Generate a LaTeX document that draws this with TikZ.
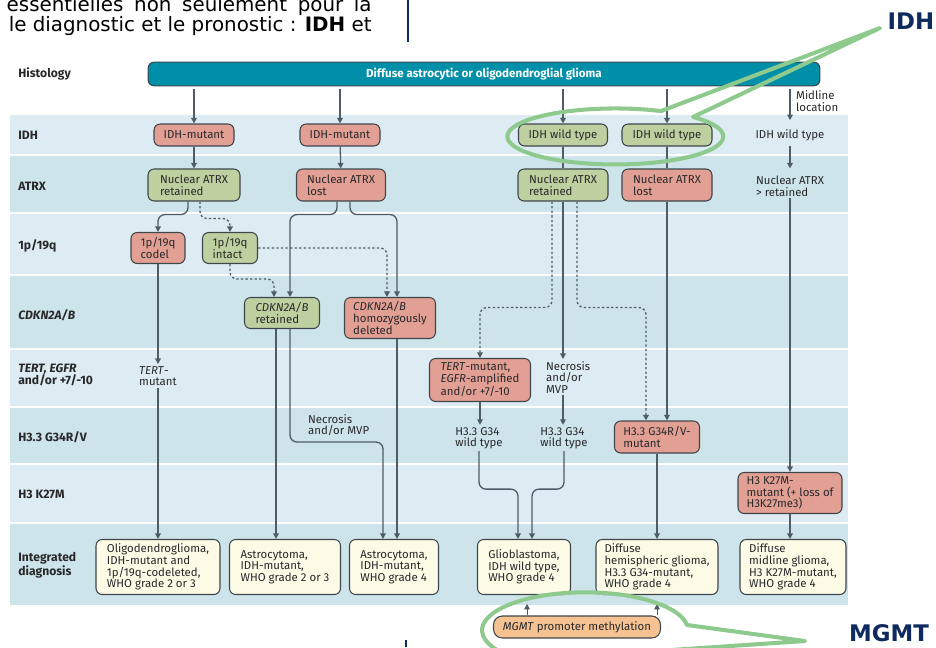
\documentclass[tikz,border=0pt]{standalone}
\usepackage{fontspec}
\setmainfont{Fira Sans}
\newfontfamily\notefont{DejaVu Sans}
\usetikzlibrary{arrows.meta, positioning, calc}

\definecolor{bandA}{RGB}{221,236,242}
\definecolor{bandB}{RGB}{206,228,235}
\definecolor{barteal}{RGB}{0,143,168}
\definecolor{redfill}{RGB}{226,160,148}
\definecolor{greenfill}{RGB}{190,208,160}
\definecolor{dxfill}{RGB}{253,250,230}
\definecolor{mgmtfill}{RGB}{246,194,146}
\definecolor{boxline}{RGB}{62,70,76}
\definecolor{arrline}{RGB}{78,92,102}
\definecolor{ink}{RGB}{40,40,42}
\definecolor{navy}{RGB}{14,42,94}
\definecolor{hlgreen}{RGB}{142,202,142}

\begin{document}
\begin{tikzpicture}[
  x=0.02cm, y=-0.02cm,
  font=\fontsize{6.5}{6.6}\selectfont,
  every node/.style={text=ink},
  box/.style={draw=boxline, line width=0.6pt, rounded corners=3.5pt, align=left, inner sep=2pt, minimum height=0.44cm},
  redbox/.style={box, fill=redfill},
  greenbox/.style={box, fill=greenfill},
  dxbox/.style={box, fill=dxfill, minimum height=1.1cm},
  plaintext/.style={align=left, inner sep=1pt},
  rowlab/.style={anchor=west, align=left, inner sep=0pt, font=\fontsize{6.9}{7}\selectfont\bfseries},
  arr/.style={-{Triangle[length=3.2pt, width=3.2pt]}, draw=arrline, line width=0.75pt},
  link/.style={draw=arrline, line width=0.75pt},
  dotarr/.style={arr, dash pattern=on 1.3pt off 1.3pt},
  hl/.style={draw=hlgreen, line width=2.3pt, line join=round}
]
\useasboundingbox (0,0) rectangle (936,647);

% rows of the table
\foreach \top/\bot/\col in {115/154/bandA, 156/212/bandB, 214/274/bandA, 276/348/bandB,
    350/406/bandA, 408/463/bandB, 465/522/bandA, 524/605/bandB}
  \fill[\col] (10,\top) rectangle (848,\bot);

% text above the figure
\node[anchor=east, inner sep=0pt, font=\notefont\fontsize{11.3}{12}\selectfont, text=black] (txtA) at (372,6)
  {\makebox[7.3cm][s]{essentielles non seulement pour la}};
\node[anchor=east, inner sep=0pt, font=\notefont\fontsize{11.3}{12}\selectfont, text=black] (txtB) at (372,26)
  {le diagnostic et le pronostic : \textbf{IDH} et};
\draw[navy, line width=1pt] (408,0) -- (408,42);
\draw[navy, line width=1pt] (406,640) -- (406,647);

% row labels
\node[rowlab] (labHist) at (18,74) {Histology};
\node[rowlab] (labIDH) at (18,135) {IDH};
\node[rowlab] (labATRX) at (18,186) {ATRX};
\node[rowlab] (labCodel) at (18,246) {1p/19q};
\node[rowlab] (labCDKN) at (18,315) {\itshape CDKN2A/B};
\node[rowlab] (labTERT) at (18,375) {{\itshape TERT, EGFR}\\and/or +7/-10};
\node[rowlab] (labG34) at (18,437) {H3.3 G34R/V};
\node[rowlab] (labK27) at (18,494) {H3 K27M};
\node[rowlab] (labDx) at (18,565) {Integrated\\diagnosis};

% histology
\node[draw=boxline, fill=barteal, line width=0.6pt, rounded corners=3.5pt, minimum width=13.44cm, minimum height=0.44cm,
  text=white, font=\fontsize{6.6}{6.6}\selectfont\bfseries] (hist) at (484,74) {Diffuse astrocytic or oligodendroglial glioma};

% IDH
\node[redbox, minimum width=1.6cm] (idhA) at (194,135) {IDH-mutant};
\node[redbox, minimum width=1.6cm] (idhB) at (340,135) {IDH-mutant};
\node[greenbox, minimum width=1.78cm] (idhC) at (563,135) {IDH wild type};
\node[greenbox, minimum width=1.8cm] (idhD) at (667,135) {IDH wild type};
\node[plaintext] (idhE) at (790,135) {IDH wild type};
\node[plaintext, anchor=west] (midline) at (794,101) {Midline\\location};

% ATRX
\node[greenbox, minimum width=1.84cm, minimum height=0.64cm] (atrxA) at (194,185) {Nuclear ATRX\\retained};
\node[redbox, minimum width=1.78cm, minimum height=0.64cm] (atrxB) at (341,185) {Nuclear ATRX\\lost};
\node[greenbox, minimum width=1.8cm, minimum height=0.64cm] (atrxC) at (563,185) {Nuclear ATRX\\retained};
\node[redbox, minimum width=1.8cm, minimum height=0.64cm] (atrxD) at (667,185) {Nuclear ATRX\\lost};
\node[plaintext] (atrxE) at (790,186) {Nuclear ATRX\\> retained};

% 1p/19q
\node[redbox, minimum width=1.08cm, minimum height=0.62cm] (codel) at (158,248) {1p/19q\\codel};
\node[greenbox, minimum width=1.1cm, minimum height=0.62cm] (intact) at (230,248) {1p/19q\\intact};

% CDKN2A/B
\node[greenbox, minimum width=1.5cm, minimum height=0.62cm] (cdknA) at (282,313) {\textit{CDKN2A/B}\\retained};
\node[redbox, minimum width=1.82cm, minimum height=0.82cm] (cdknB) at (390,318) {\textit{CDKN2A/B}\\homozygously\\deleted};

% TERT, EGFR
\node[plaintext] (tertT) at (158,376) {\textit{TERT}-\\mutant};
\node[redbox, minimum width=2.02cm, minimum height=0.86cm] (tertB) at (480,380) {\textit{TERT}-mutant,\\\textit{EGFR}-amplified\\and/or +7/-10};
\node[plaintext, anchor=north west] (necT) at (544,359) {Necrosis\\and/or\\MVP};

% H3.3 G34R/V
\node[plaintext, anchor=south west] (necB) at (306,438) {Necrosis\\and/or MVP};
\node[plaintext] (h3wtA) at (479,438) {H3.3 G34\\wild type};
\node[plaintext] (h3wtB) at (564,438) {H3.3 G34\\wild type};
\node[redbox, minimum width=1.7cm, minimum height=0.64cm] (g34) at (657,437) {H3.3 G34R/V-\\mutant};

% H3 K27M
\node[redbox, minimum width=2.08cm, minimum height=0.82cm] (k27m) at (790,493) {H3 K27M-\\mutant (+ loss of\\H3K27me3)};

% integrated diagnosis
\node[dxbox, minimum width=2.48cm] (dxA) at (158,567) {Oligodendroglioma,\\IDH-mutant and\\1p/19q-codeleted,\\WHO grade 2 or 3};
\node[dxbox, minimum width=2.22cm] (dxB) at (285,567) {Astrocytoma,\\IDH-mutant,\\WHO grade 2 or 3};
\node[dxbox, minimum width=1.78cm] (dxC) at (394,567) {Astrocytoma,\\IDH-mutant,\\WHO grade 4};
\node[dxbox, minimum width=1.86cm] (dxD) at (524,567) {Glioblastoma,\\IDH wild type,\\WHO grade 4};
\node[dxbox, minimum width=2.44cm] (dxE) at (657,567) {Diffuse\\hemispheric glioma,\\H3.3 G34-mutant,\\WHO grade 4};
\node[dxbox, minimum width=2.12cm] (dxF) at (793,567) {Diffuse\\midline glioma,\\H3 K27M-mutant,\\WHO grade 4};
\node[box, fill=mgmtfill, rounded corners=5pt, minimum width=3.34cm] (mgmt) at (577,627) {\textit{MGMT} promoter methylation};

% connectors
\foreach \n in {idhA, idhB, idhC, idhD}
  \draw[arr, shorten <=1.5pt] (hist.south -| \n.north) -- (\n.north);
\draw[arr, shorten <=1.5pt, shorten >=4pt] (hist.south -| idhE.north) -- (idhE.north);

\draw[arr] (idhA) -- (atrxA);
\draw[arr] (idhB) -- (atrxB);
\draw[link] (idhC) -- (atrxC);
\draw[link] (idhD) -- (atrxD);
\draw[arr, shorten <=2pt, shorten >=3pt] (idhE) -- (atrxE);

\draw[arr, rounded corners=4pt] ($(atrxA.south)+(-6,0)$) -- ++(0,13) -| (codel.north);
\draw[dotarr, rounded corners=4pt] ($(atrxA.south)+(6,0)$) -- ++(0,17) -| (intact.north);
\draw[arr, rounded corners=4pt] ($(atrxB.south)+(-4,0)$) -- ++(0,13) -| ($(cdknA.north)+(8,0)$);
\draw[arr, rounded corners=4pt] ($(atrxB.south)+(9,0)$) -- ++(0,13) -| ($(cdknB.north)+(7,0)$);
\draw[dotarr, rounded corners=4pt] (intact.south) -- ++(0,15) -| ($(cdknA.north)+(-8,0)$);
\draw[dotarr, rounded corners=4pt] (intact.east) -| ($(cdknB.north)+(-3,0)$);

\draw[arr] (codel) -- (tertT);
\draw[arr] (tertT) -- (dxA);

\draw[arr] ($(cdknA.south)+(-6,0)$) coordinate (cA) -- (cA |- dxB.north);
\draw[arr, rounded corners=4pt] ($(cdknA.south)+(8,0)$) -- ++(0,113) -| ($(dxC.north)+(-11,0)$);
\draw[arr] ($(cdknB.south)+(7,0)$) coordinate (cB) -- (cB |- dxC.north);

\draw[arr] (atrxC.south) -- (atrxC.south |- necT.north);
\draw[dotarr, rounded corners=4pt] ($(atrxC.south)+(-11,0)$) -- ++(0,106) -| (tertB.north);
\draw[dotarr, rounded corners=4pt] ($(atrxC.south)+(14,0)$) -- ++(0,106) -| ($(g34.north)+(-11,0)$);
\draw[arr] (atrxD.south) -- (atrxD.south |- g34.north);

\draw[arr] (tertB.south) -- (tertB.south |- h3wtA.north);
\draw[arr] (necT.south -| atrxC.south) -- (h3wtB.north -| atrxC.south);
\draw[arr, rounded corners=4pt] (h3wtA.south) -- ++(0,38) -| ($(dxD.north)+(-6,0)$);
\draw[arr, rounded corners=4pt] (h3wtB.south) -- ++(0,38) -| ($(dxD.north)+(8,0)$);
\draw[arr] (g34) -- (dxE);
\draw[arr] (atrxE.south) -- (atrxE.south |- k27m.north);
\draw[arr] (k27m.south) -- (k27m.south |- dxF.north);

\draw[arr, line width=0.5pt, shorten >=5pt] ($(mgmt.north -| dxD.south)+(3,0)$) -- ($(dxD.south)+(3,0)$);
\draw[arr, line width=0.5pt, shorten >=5pt] (mgmt.north -| dxE.south) -- (dxE.south);

% highlights
\draw[hl] (693,117) arc[start angle=44, end angle=-295, x radius=2.16cm, y radius=0.56cm] -- (880,28) -- cycle;
\draw[hl] (687,625) arc[start angle=8, end angle=329, x radius=2.06cm, y radius=0.76cm] -- (805,641) -- cycle;
\node[font=\notefont\bfseries\fontsize{13}{13}\selectfont, text=navy] (idhNote) at (911,21) {IDH};
\node[font=\notefont\bfseries\fontsize{13}{13}\selectfont, text=navy] (mgmtNote) at (889,633) {MGMT};
\end{tikzpicture}
\end{document}
